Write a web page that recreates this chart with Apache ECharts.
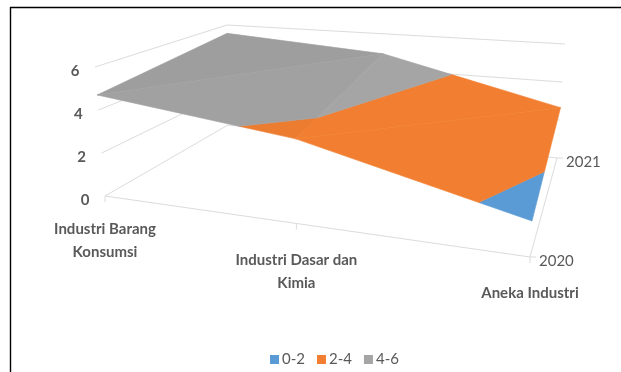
<!DOCTYPE html>
<html>
<head>
<meta charset="utf-8">
<script src="https://cdn.jsdelivr.net/npm/echarts@6/dist/echarts.min.js"></script>
<style>
  html, body { margin: 0; padding: 0; background: #fff; }
  #chart { width: 621px; height: 372px; }
</style>
</head>
<body>
<div id="chart"></div>
<script>
// Sectors along the width axis, years along the depth axis.
const categories = ['Industri Barang\nKonsumsi', 'Industri Dasar dan\nKimia', 'Aneka Industri'];
const years = ['2020', '2021'];
const values2020 = [4.7, 3.72, 1.5];
const values2021 = [5.5, 4.85, 2.65];
const valueTicks = [0, 2, 4, 6];
const bandNames = ['0-2', '2-4', '4-6'];
const bandColors = ['#5B9BD5', '#F27F31', '#A5A5A5'];

const surface = [values2020, values2021];
const valueMax = 6;

// Floor of the 3D box in view units: front-left, front-right, back-right, back-left.
const floor = [[105, 196], [530, 257], [557, 158], [228, 125]];
// Vertical extent of the box (0 to valueMax) at each of those corners.
const rise = [[-10, -129], [8, -144], [8, -114], [-1, -100]];
// Distance from a category tick down to its label, per category.
const categoryLabelDrop = [22, 25, 25];

// Perspective map of the unit square onto the floor quadrilateral.
const homography = (function () {
  const [p0, p1, p2, p3] = floor;
  const dx1 = p1[0] - p2[0], dx2 = p3[0] - p2[0], sx = p0[0] - p1[0] + p2[0] - p3[0];
  const dy1 = p1[1] - p2[1], dy2 = p3[1] - p2[1], sy = p0[1] - p1[1] + p2[1] - p3[1];
  const den = dx1 * dy2 - dx2 * dy1;
  const g = (sx * dy2 - dx2 * sy) / den;
  const h = (dx1 * sy - sx * dy1) / den;
  return {
    a: p1[0] - p0[0] + g * p1[0], b: p3[0] - p0[0] + h * p3[0], c: p0[0],
    d: p1[1] - p0[1] + g * p1[1], e: p3[1] - p0[1] + h * p3[1], f: p0[1],
    g: g, h: h
  };
})();

function project(u, v, value) {
  const m = homography;
  const w = m.g * u + m.h * v + 1;
  const fx = (m.a * u + m.b * v + m.c) / w;
  const fy = (m.d * u + m.e * v + m.f) / w;
  const t = value / valueMax;
  const blend = (i) =>
    (1 - u) * (1 - v) * rise[0][i] + u * (1 - v) * rise[1][i] +
    u * v * rise[2][i] + (1 - u) * v * rise[3][i];
  return [fx + blend(0) * t, fy + blend(1) * t];
}

const catU = (i) => i / (categories.length - 1);
const yearV = (j) => j / (years.length - 1);

function surfacePoint(i, j) {
  const value = surface[j][i];
  const p = project(catU(i), yearV(j), value);
  return [p[0], p[1], value];
}

// Triangles of the surface (category, year) with their light shading.
const facets = [
  { corners: [[0, 0], [0, 1], [1, 1]], shade: 0.955 },
  { corners: [[0, 0], [1, 0], [1, 1]], shade: 0.975 },
  { corners: [[1, 0], [1, 1], [2, 1]], shade: 1 },
  { corners: [[1, 0], [2, 0], [2, 1]], shade: 1 }
];

// Keep the part of a polygon on one side of a value level.
function clipLevel(poly, level, keepAbove) {
  const out = [];
  const inside = (p) => (keepAbove ? p[2] >= level : p[2] <= level);
  for (let k = 0; k < poly.length; k++) {
    const a = poly[k], b = poly[(k + 1) % poly.length];
    const ai = inside(a), bi = inside(b);
    if (ai) out.push(a);
    if (ai !== bi) {
      const t = (level - a[2]) / (b[2] - a[2]);
      out.push([a[0] + (b[0] - a[0]) * t, a[1] + (b[1] - a[1]) * t, level]);
    }
  }
  return out;
}

function shadeColor(hex, s) {
  const n = parseInt(hex.slice(1), 16);
  const c = [(n >> 16) & 255, (n >> 8) & 255, n & 255].map((x) => Math.round(x * s));
  return 'rgb(' + c.join(',') + ')';
}

function bandSeries(bandIndex) {
  const lo = valueTicks[bandIndex], hi = valueTicks[bandIndex + 1];
  return {
    type: 'custom',
    name: bandNames[bandIndex],
    coordinateSystem: 'cartesian2d',
    itemStyle: { color: bandColors[bandIndex] },
    silent: true,
    clip: false,
    z: 3,
    data: facets.map((f, i) => [i, bandIndex]),
    renderItem: function (params, api) {
      const facet = facets[params.dataIndex];
      let poly = facet.corners.map((c) => surfacePoint(c[0], c[1]));
      poly = clipLevel(clipLevel(poly, lo, true), hi, false);
      if (poly.length < 3) return null;
      const color = shadeColor(bandColors[bandIndex], facet.shade);
      return {
        type: 'polygon',
        shape: { points: poly.map((p) => api.coord([p[0], p[1]])) },
        style: { fill: color, stroke: color, lineWidth: 0.6 }
      };
    }
  };
}

const gridColor = '#DCDCDC';
const labelColor = '#595959';
const labelFont = 'Lato, "Open Sans", sans-serif';

function lineEl(api, pts) {
  return {
    type: 'polyline',
    shape: { points: pts.map((p) => api.coord(p)) },
    style: { stroke: gridColor, lineWidth: 1, fill: null }
  };
}

function textEl(api, p, text, align, verticalAlign, size, lineHeight, weight) {
  const c = api.coord(p);
  return {
    type: 'text',
    x: c[0], y: c[1],
    style: {
      text: text, fill: labelColor, align: align, verticalAlign: verticalAlign,
      font: (weight || 'normal') + ' ' + size + 'px ' + labelFont,
      lineHeight: lineHeight
    }
  };
}

// Walls, floor edges, ticks and axis labels of the box.
const frameSeries = {
  type: 'custom',
  coordinateSystem: 'cartesian2d',
  silent: true,
  clip: false,
  z: 1,
  data: [[0, 0]],
  renderItem: function (params, api) {
    const children = [];
    valueTicks.forEach((tick) => {
      const pts = [project(0, 0, tick), project(0, 1, tick), project(1, 1, tick)];
      children.push(lineEl(api, pts));
      const start = pts[0];
      children.push(textEl(api, [start[0] - 20, start[1] + 4], String(tick), 'center', 'middle', 15, 15, 'bold'));
    });
    children.push(lineEl(api, [project(0, 0, 0), project(1, 0, 0), project(1, 1, 0)]));
    categories.forEach((name, i) => {
      const p = project(catU(i), 0, 0);
      children.push(lineEl(api, [p, [p[0], p[1] + 6]]));
      children.push(textEl(api, [p[0], p[1] + categoryLabelDrop[i]], name, 'center', 'top', 15, 23, 'bold'));
    });
    years.forEach((year, j) => {
      const p = project(1, yearV(j), 0);
      children.push(lineEl(api, [p, [p[0] + 6, p[1]]]));
      children.push(textEl(api, [p[0] + 9, p[1] + 4], year, 'left', 'middle', 15, 15));
    });
    return { type: 'group', children: children };
  }
};

const chart = echarts.init(document.getElementById('chart'), null, { renderer: 'canvas' });
chart.setOption({
  animation: false,
  backgroundColor: '#fff',
  grid: { left: 0, right: 0, top: 0, bottom: 0 },
  xAxis: { type: 'value', min: 0, max: 621, show: false },
  yAxis: { type: 'value', min: 0, max: 372, inverse: true, show: false },
  legend: {
    data: bandNames.map((name) => ({ name: name, icon: 'rect' })),
    left: 265,
    top: 347,
    itemWidth: 9,
    itemHeight: 9,
    itemGap: 12,
    itemStyle: {},
    textStyle: { color: labelColor, fontSize: 15, fontFamily: labelFont, padding: [0, 0, 0, -2] }
  },
  graphic: [
    { type: 'line', shape: { x1: 10, y1: 7.5, x2: 621, y2: 7.5 }, style: { stroke: '#000', lineWidth: 1.4 } },
    { type: 'line', shape: { x1: 10.5, y1: 7, x2: 10.5, y2: 372 }, style: { stroke: '#000', lineWidth: 1.4 } }
  ],
  series: [frameSeries, bandSeries(0), bandSeries(1), bandSeries(2)]
});
</script>
</body>
</html>
